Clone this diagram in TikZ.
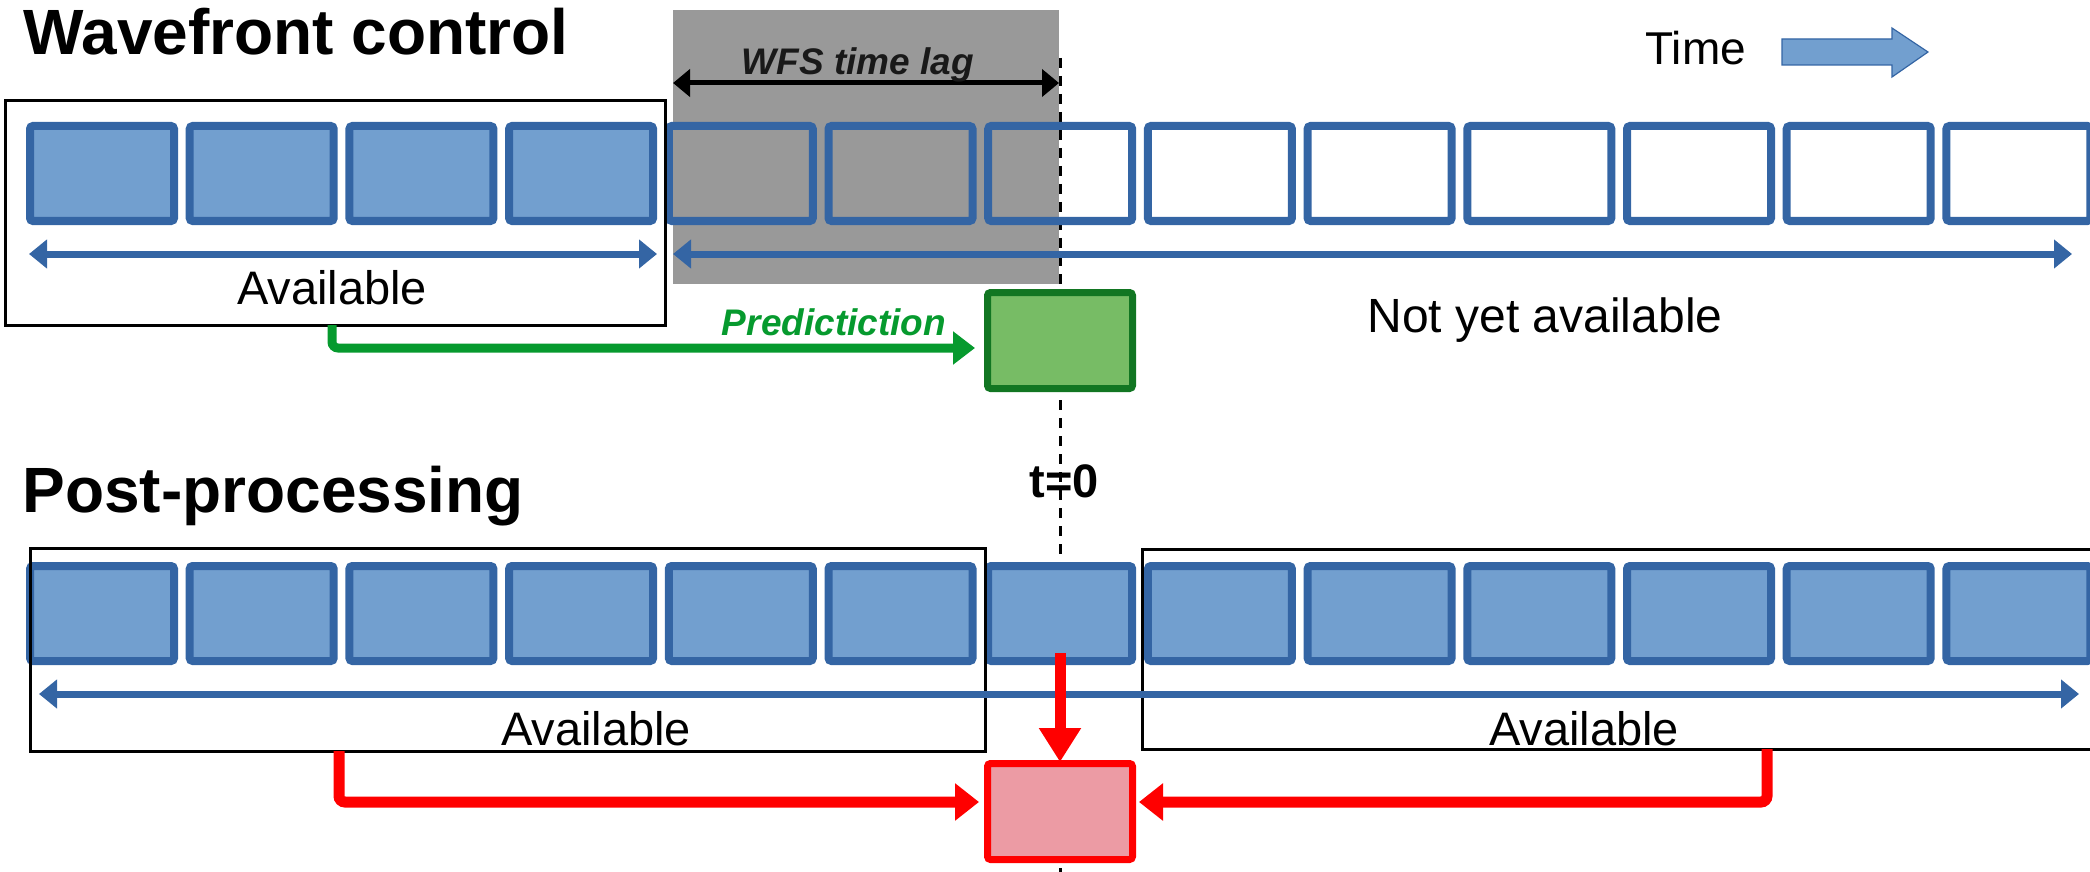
\documentclass[tikz,border=0pt]{standalone}
\usepackage{fontspec}
\setmainfont{Liberation Sans}
\usetikzlibrary{arrows.meta}
\definecolor{bfill}{HTML}{729FCF}
\definecolor{bline}{HTML}{3465A4}
\definecolor{lag}{HTML}{999999}
\definecolor{gfill}{HTML}{77BC65}
\definecolor{gline}{HTML}{127622}
\definecolor{garrow}{HTML}{069A2E}
\definecolor{rfill}{HTML}{EC9BA4}
\definecolor{rline}{HTML}{FF0000}
\begin{document}
\begin{tikzpicture}[x=0.5pt,y=-0.5pt,
  cell/.style={rectangle, draw=bline, line width=4pt, rounded corners=1.5pt,
    minimum width=72pt, minimum height=47.5pt, inner sep=0pt},
  cellfull/.style={cell, fill=bfill},
  frame/.style={rectangle, draw=black, line width=1.5pt, inner sep=0pt},
  resbox/.style={rectangle, line width=3.5pt, rounded corners=1.5pt,
    minimum width=72.5pt, minimum height=48pt, inner sep=0pt},
  txt/.style={inner sep=0pt, anchor=base},
  span/.style={draw=bline, line width=3.5pt, {Triangle[length=9pt,width=14pt]}-{Triangle[length=9pt,width=14pt]}},
  redarr/.style={draw=rline, line width=5.5pt, rounded corners=3pt, -{Triangle[length=12pt,width=18pt]}},
  tlag/.style={dashed, dash pattern=on 5pt off 4pt, line width=1.5pt}
]
\useasboundingbox (0,0) rectangle (2090,872);

% grey lag area
\node[rectangle, fill=lag, inner sep=0pt, minimum width=193pt, minimum height=137pt] (lagbox) at (866,147) {};

% t=0 label (under the dashed line)
\node[txt, font=\fontsize{23.5}{24}\selectfont\bfseries] (t0) at (1064,497) {t=0};

% dashed time line
\coordinate (d0) at (1060,58);
\coordinate (d1) at (1060,872);
\draw[tlag] (d0) -- (d1);

% top row of cells
\foreach \i in {0,...,3} {\node[cellfull] (t\i) at ({102+159.7*\i},173.5) {};}
\foreach \i in {4,...,12} {\node[cell] (t\i) at ({102+159.7*\i},173.5) {};}

% bottom row of cells
\foreach \i in {0,...,12} {\node[cellfull] (b\i) at ({102+159.7*\i},613.5) {};}

% black frames
\node[frame, minimum width=330pt, minimum height=112pt] (avtop) at (335,213) {};
\node[frame, minimum width=477.5pt, minimum height=101.5pt] (avbl) at (507.5,649.5) {};
\node[frame, minimum width=484pt, minimum height=100pt] (avbr) at (1626,649) {};

% WFS time lag arrow
\coordinate (w1) at (673,83);
\coordinate (w2) at (1059,83);
\draw[line width=2.5pt, {Triangle[length=8.5pt,width=13.5pt]}-{Triangle[length=8.5pt,width=13.5pt]}] (w1) -- (w2);
\node[txt, font=\fontsize{18.5}{19}\selectfont\bfseries\itshape, text=black!90] (wfs) at (858,75) {WFS time lag};

% blue span arrows
\coordinate (a1) at (29,254);
\coordinate (a2) at (657,254);
\coordinate (a3) at (673,254);
\coordinate (a4) at (2072,254);
\draw[span] (a1) -- (a2);
\draw[span] (a3) -- (a4);
\coordinate (a5) at (39,694);
\coordinate (a6) at (2079,694);
\draw[span] (a5) -- (a6);

% texts
\node[txt, font=\fontsize{32}{32}\selectfont\bfseries, anchor=base west] (title1) at (23,55) {Wavefront control};
\node[txt, font=\fontsize{32}{32}\selectfont\bfseries, anchor=base west] (title2) at (22,512) {Post-processing};
\node[txt, font=\fontsize{23.5}{24}\selectfont] (av1) at (332,304) {Available};
\node[txt, font=\fontsize{24}{24}\selectfont] (nya) at (1545,332) {Not yet available};
\node[txt, font=\fontsize{23.5}{24}\selectfont] (av2) at (596,745) {Available};
\node[txt, font=\fontsize{23.5}{24}\selectfont] (av3) at (1584,745) {Available};

% Time indicator
\node[txt, font=\fontsize{23}{23}\selectfont, anchor=base west] (time) at (1645,65) {Time};
\filldraw[fill=bfill, draw=bline, line width=0.6pt] (1782,39) -- (1892,39) -- (1892,28) -- (1928,52) -- (1892,77) -- (1892,65) -- (1782,65) -- cycle;

% prediction box and arrow
\node[resbox, draw=gline, fill=gfill] (pred) at (1060,340.5) {};
\coordinate (g0) at (332,325);
\coordinate (g1) at (975,348);
\draw[draw=garrow, line width=4.5pt, rounded corners=3pt, -{Triangle[length=11pt,width=16pt]}] (g0) |- (g1);
\node[txt, font=\fontsize{18.5}{19}\selectfont\bfseries\itshape, text=garrow] (predtxt) at (834,335) {Predictiction};

% post-processing box and arrows
\node[resbox, draw=rline, fill=rfill] (post) at (1060,811.5) {};
\coordinate (r0) at (339,751);
\coordinate (r1) at (979,802);
\draw[redarr] (r0) |- (r1);
\coordinate (r2) at (1767,749);
\coordinate (r3) at (1139,802);
\draw[redarr] (r2) |- (r3);
\coordinate (r4) at (1060,653);
\coordinate (r5) at (1060,762);
\draw[draw=rline, line width=5.5pt, -{Triangle[length=17pt,width=20pt]}] (r4) -- (r5);
\end{tikzpicture}
\end{document}
